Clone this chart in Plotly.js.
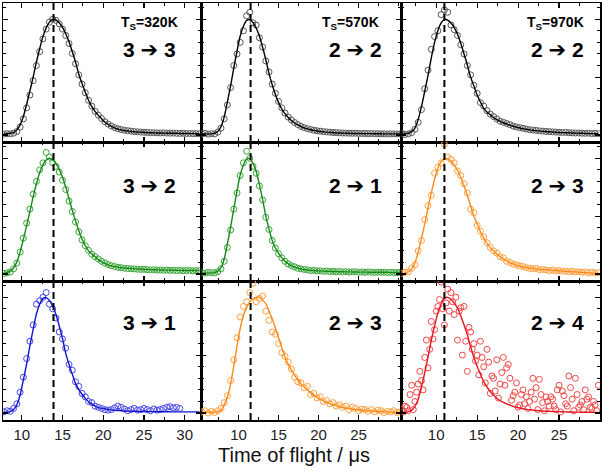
<!DOCTYPE html>
<html><head><meta charset="utf-8">
<script src="https://cdn.plot.ly/plotly-3.0.1.min.js"></script>
<style>html,body{margin:0;padding:0;background:#fff}#chart{width:602px;height:473px}</style>
</head><body><div id="chart"></div>
<script>
// time grids (µs)
const t1 = [7.8,8.2,8.6,9.0,9.4,9.8,10.2,10.6,11.0,11.4,11.8,12.2,12.6,13.0,13.4,13.8,14.2,14.6,15.0,15.4,15.8,16.2,16.6,17.0,17.4,17.8,18.2,18.6,19.0,19.4,19.8,20.2,20.6,21.0,21.4,21.8,22.2,22.6,23.0,23.4,23.8,24.2,24.6,25.0,25.4,25.8,26.2,26.6,27.0,27.4,27.8,28.2,28.6,29.0,29.4,29.8,30.2,30.6,31.0,31.4,31.8];
const t2 = [5.4,5.8,6.2,6.6,7.0,7.4,7.8,8.2,8.6,9.0,9.4,9.8,10.2,10.6,11.0,11.4,11.8,12.2,12.6,13.0,13.4,13.8,14.2,14.6,15.0,15.4,15.8,16.2,16.6,17.0,17.4,17.8,18.2,18.6,19.0,19.4,19.8,20.2,20.6,21.0,21.4,21.8,22.2,22.6,23.0,23.4,23.8,24.2,24.6,25.0,25.4,25.8,26.2,26.6,27.0,27.4,27.8,28.2,28.6,29.0,29.4,29.8,30.2];
const t3 = [5.8,6.2,6.6,7.0,7.4,7.8,8.2,8.6,9.0,9.4,9.8,10.2,10.6,11.0,11.4,11.8,12.2,12.6,13.0,13.4,13.8,14.2,14.6,15.0,15.4,15.8,16.2,16.6,17.0,17.4,17.8,18.2,18.6,19.0,19.4,19.8,20.2,20.6,21.0,21.4,21.8,22.2,22.6,23.0,23.4,23.8,24.2,24.6,25.0,25.4,25.8,26.2,26.6,27.0,27.4,27.8,28.2,28.6,29.0,29.4,29.8];
const t3b = [6.0,6.4,6.8,7.2,7.6,8.0,8.4,8.8,9.2,9.6,10.0,10.4,10.8,11.2,11.6,12.0,12.4,12.8,13.2,13.6,14.0,14.4,14.8,15.2,15.6,16.0,16.4,16.8,17.2,17.6,18.0,18.4,18.8,19.2,19.6,20.0,20.4,20.8,21.2,21.6,22.0,22.4,22.8,23.2,23.6,24.0,24.4,24.8,25.2,25.6,26.0,26.4,26.8,27.2,27.6,28.0,28.4,28.8,29.2,29.6];

// Ts = 320 K
const obs_320_33 = [0.008,0.012,0.010,0.016,0.030,0.070,0.140,0.235,0.345,0.470,0.600,0.720,0.830,0.915,0.975,1.000,0.990,0.960,0.915,0.860,0.790,0.705,0.615,0.520,0.440,0.365,0.300,0.250,0.205,0.172,0.142,0.115,0.095,0.078,0.064,0.054,0.048,0.042,0.038,0.034,0.030,0.028,0.026,0.024,0.022,0.021,0.020,0.019,0.018,0.019,0.017,0.016,0.017,0.015,0.014,0.015,0.013,0.014,0.012,0.013,0.011];
const fit_320_33 = [0.010,0.012,0.015,0.020,0.045,0.088,0.160,0.266,0.380,0.500,0.630,0.745,0.850,0.925,0.975,0.998,0.994,0.970,0.930,0.875,0.805,0.720,0.630,0.525,0.445,0.370,0.300,0.245,0.205,0.170,0.140,0.112,0.093,0.075,0.062,0.050,0.045,0.039,0.035,0.031,0.029,0.026,0.025,0.023,0.021,0.020,0.019,0.018,0.018,0.017,0.016,0.016,0.015,0.015,0.014,0.014,0.013,0.013,0.012,0.012,0.012];
const obs_320_32 = [0.005,0.010,0.018,0.045,0.095,0.190,0.310,0.440,0.560,0.690,0.800,0.900,0.960,1.050,1.010,0.960,0.930,0.880,0.810,0.730,0.630,0.540,0.450,0.365,0.295,0.245,0.205,0.172,0.150,0.130,0.110,0.095,0.082,0.072,0.065,0.058,0.055,0.050,0.048,0.046,0.044,0.042,0.040,0.041,0.038,0.036,0.037,0.034,0.035,0.033,0.034,0.031,0.033,0.030,0.032,0.029,0.031,0.030,0.028,0.030,0.029];
const fit_320_32 = [0.010,0.012,0.025,0.052,0.105,0.190,0.300,0.418,0.540,0.667,0.780,0.875,0.942,0.985,1.000,0.986,0.954,0.905,0.835,0.750,0.652,0.550,0.458,0.375,0.300,0.245,0.200,0.175,0.150,0.125,0.107,0.092,0.080,0.070,0.064,0.059,0.055,0.052,0.050,0.048,0.046,0.044,0.042,0.041,0.040,0.038,0.037,0.036,0.035,0.035,0.034,0.033,0.033,0.032,0.032,0.031,0.031,0.030,0.030,0.030,0.030];
const obs_320_31 = [0.010,0.020,0.015,0.040,0.080,0.180,0.310,0.470,0.620,0.760,0.940,0.970,1.000,1.040,0.940,0.900,0.820,0.700,0.640,0.560,0.420,0.370,0.270,0.230,0.170,0.140,0.100,0.090,0.060,0.050,0.040,0.030,0.025,0.030,0.045,0.060,0.050,0.035,0.020,0.030,0.040,0.025,0.030,0.040,0.030,0.020,0.035,0.025,0.030,0.040,0.050,0.055,0.045,0.050,0.040];
const fit_320_31 = [0.008,0.008,0.012,0.030,0.072,0.156,0.287,0.425,0.580,0.723,0.855,0.940,0.990,0.997,0.972,0.924,0.850,0.752,0.645,0.515,0.420,0.336,0.256,0.203,0.162,0.127,0.098,0.077,0.060,0.047,0.041,0.036,0.030,0.027,0.024,0.022,0.020,0.018,0.017,0.016,0.015,0.014,0.014,0.013,0.013,0.012,0.012,0.012,0.011,0.011,0.011,0.011,0.010,0.010,0.010,0.010,0.010,0.010,0.010,0.010,0.010];

// Ts = 570 K
const obs_570_22 = [0.010,0.015,0.008,0.012,0.010,0.025,0.060,0.140,0.260,0.410,0.600,0.700,0.800,0.900,1.030,1.060,0.970,0.950,0.840,0.760,0.640,0.545,0.440,0.360,0.290,0.235,0.190,0.155,0.130,0.108,0.090,0.075,0.064,0.055,0.048,0.042,0.037,0.033,0.030,0.027,0.025,0.022,0.021,0.019,0.018,0.017,0.016,0.015,0.016,0.014,0.013,0.014,0.012,0.013,0.011,0.012,0.010,0.011,0.009,0.011,0.010,0.009,0.010];
const fit_570_22 = [0.010,0.010,0.010,0.010,0.015,0.030,0.072,0.156,0.287,0.425,0.580,0.723,0.855,0.940,0.990,0.997,0.972,0.924,0.855,0.758,0.652,0.532,0.434,0.350,0.280,0.225,0.185,0.152,0.125,0.104,0.087,0.073,0.062,0.053,0.046,0.040,0.035,0.031,0.028,0.025,0.023,0.021,0.019,0.018,0.017,0.016,0.015,0.014,0.014,0.013,0.013,0.012,0.012,0.012,0.011,0.011,0.011,0.010,0.010,0.010,0.010,0.010,0.010];
const obs_570_21 = [0.010,0.008,0.015,0.012,0.010,0.020,0.045,0.110,0.230,0.380,0.560,0.700,0.850,0.960,1.060,1.000,0.930,0.870,0.760,0.640,0.490,0.385,0.290,0.225,0.175,0.140,0.110,0.088,0.072,0.062,0.050,0.045,0.040,0.036,0.030,0.032,0.027,0.028,0.024,0.026,0.021,0.024,0.020,0.022,0.018,0.021,0.017,0.019,0.020,0.016,0.018,0.015,0.019,0.016,0.014,0.017,0.015,0.016,0.013,0.015,0.014,0.012,0.015];
const fit_570_21 = [0.010,0.010,0.010,0.010,0.012,0.025,0.055,0.130,0.260,0.403,0.565,0.716,0.855,0.942,0.994,0.994,0.954,0.885,0.772,0.645,0.500,0.390,0.290,0.225,0.178,0.140,0.110,0.088,0.072,0.060,0.051,0.044,0.039,0.035,0.032,0.030,0.028,0.026,0.025,0.024,0.023,0.022,0.021,0.020,0.020,0.019,0.019,0.018,0.018,0.017,0.017,0.017,0.016,0.016,0.016,0.015,0.015,0.015,0.015,0.014,0.014,0.014,0.014];
const obs_570_23 = [0.010,0.020,0.000,0.015,0.005,0.020,0.040,0.090,0.150,0.280,0.460,0.650,0.830,0.920,0.960,1.040,1.120,0.960,0.990,1.010,0.880,0.800,0.700,0.680,0.600,0.520,0.490,0.440,0.380,0.310,0.270,0.260,0.220,0.230,0.160,0.170,0.130,0.140,0.100,0.110,0.080,0.090,0.060,0.070,0.050,0.060,0.030,0.050,0.040,0.020,0.035,0.030,0.015,0.030,0.010,0.025,0.020,0.005,0.015,0.010,0.020,0.005,0.010];
const fit_570_23 = [0.005,0.005,0.006,0.007,0.008,0.010,0.025,0.070,0.140,0.250,0.410,0.580,0.730,0.840,0.910,0.960,0.985,0.998,0.999,0.975,0.945,0.880,0.815,0.735,0.650,0.565,0.485,0.420,0.370,0.325,0.285,0.252,0.225,0.200,0.176,0.155,0.137,0.120,0.106,0.093,0.082,0.072,0.064,0.056,0.049,0.043,0.038,0.034,0.030,0.027,0.024,0.022,0.020,0.018,0.016,0.014,0.013,0.011,0.010,0.008,0.007,0.006,0.006];

// Ts = 970 K
const obs_970_22 = [0.015,0.005,0.010,0.020,0.050,0.110,0.220,0.400,0.560,0.740,0.850,0.900,1.040,1.080,1.060,0.950,0.910,0.860,0.780,0.700,0.600,0.520,0.430,0.360,0.280,0.250,0.210,0.180,0.160,0.140,0.120,0.110,0.100,0.090,0.078,0.070,0.064,0.058,0.052,0.046,0.044,0.040,0.036,0.034,0.031,0.030,0.027,0.026,0.024,0.022,0.023,0.020,0.019,0.018,0.018,0.016,0.015,0.016,0.013,0.014,0.012];
const fit_970_22 = [0.010,0.010,0.015,0.030,0.060,0.135,0.245,0.380,0.515,0.667,0.800,0.900,0.968,0.999,0.993,0.967,0.928,0.870,0.793,0.700,0.605,0.500,0.425,0.345,0.285,0.230,0.200,0.175,0.152,0.133,0.118,0.106,0.095,0.085,0.076,0.068,0.061,0.055,0.050,0.045,0.041,0.038,0.035,0.032,0.030,0.028,0.026,0.024,0.022,0.021,0.020,0.019,0.018,0.017,0.016,0.015,0.014,0.013,0.012,0.012,0.011];
const obs_970_23 = [0.005,0.015,0.020,0.050,0.080,0.200,0.290,0.470,0.590,0.680,0.870,0.920,0.960,1.120,1.010,0.990,0.960,0.890,0.850,0.780,0.700,0.560,0.530,0.420,0.370,0.320,0.270,0.230,0.200,0.180,0.150,0.140,0.110,0.100,0.085,0.080,0.070,0.065,0.055,0.050,0.045,0.048,0.038,0.040,0.035,0.030,0.035,0.028,0.030,0.024,0.026,0.020,0.024,0.018,0.020,0.015,0.018,0.012,0.015,0.010,0.012];
const fit_970_23 = [0.005,0.008,0.020,0.045,0.097,0.190,0.308,0.433,0.572,0.700,0.818,0.913,0.970,0.999,0.995,0.975,0.940,0.895,0.835,0.760,0.680,0.590,0.500,0.435,0.365,0.310,0.265,0.228,0.198,0.172,0.150,0.130,0.113,0.099,0.087,0.077,0.069,0.062,0.056,0.051,0.047,0.044,0.041,0.038,0.036,0.034,0.032,0.030,0.028,0.026,0.024,0.022,0.020,0.019,0.017,0.015,0.013,0.011,0.009,0.008,0.007];
const obs_970_24a = [0.030,0.060,0.020,0.240,0.100,0.250,0.280,0.480,0.390,0.790,0.720,0.920,1.130,0.760,1.070,1.040,0.850,0.630,0.910,0.920,0.360,0.700,0.600,0.500,0.620,0.400,0.550,0.170,0.300,0.460,0.250,0.480,0.390,0.300,0.150,0.260,0.070,0.200,0.140,0.100,0.300,0.220,0.290,0.090,0.140,0.060,0.120,0.030,0.240,0.190,0.080,0.320,0.120,0.300,0.050,0.100,0.200,0.140,0.040,0.070,0.240];
const obs_970_24b = [0.010,0.050,0.160,0.030,0.180,0.360,0.200,0.630,0.550,0.640,0.880,0.980,0.900,0.950,0.880,0.960,1.000,0.880,0.500,0.620,0.740,0.550,0.450,0.330,0.480,0.260,0.440,0.320,0.190,0.130,0.350,0.240,0.420,0.110,0.180,0.050,0.160,0.080,0.040,0.180,0.120,0.030,0.160,0.020,0.100,0.140,0.060,0.200,0.010,0.150,0.060,0.220,0.020,0.160,0.070,0.030,0.120,0.050,0.100,0.020];
const fit_970_24 = [0.005,0.006,0.012,0.025,0.058,0.120,0.224,0.350,0.485,0.628,0.752,0.865,0.942,0.990,0.999,0.983,0.950,0.905,0.840,0.760,0.675,0.572,0.482,0.405,0.335,0.270,0.225,0.185,0.155,0.128,0.108,0.093,0.080,0.068,0.058,0.050,0.043,0.037,0.032,0.028,0.025,0.022,0.020,0.018,0.016,0.015,0.014,0.013,0.012,0.011,0.010,0.009,0.009,0.008,0.008,0.007,0.007,0.007,0.006,0.006,0.006];

const surfaceTemps = ['320K','570K','970K'];
const peakTimes = [13.9, 11.5, 11.0];
const xTicksCol1 = [10,15,20,25,30];
const xTicksCol23 = [10,15,20,25];

const W = 602, H = 473;
const colPx = [[3,201],[201,401],[401,600]];
const rowPx = [[3,142],[142,281],[281,420]];
const xRanges = [[7.7,32],[5.3,30.3],[5.7,30]];
const yRange = [-0.06,1.14];

const BLACK = {m:'#555555', l:'#000000'};
const GREEN = {m:'#3aa53a', l:'#168a16'};
const BLUE = {m:'#4646e6', l:'#1414d2'};
const ORANGE = {m:'#ffa040', l:'#ff8a1a'};
const RED = {m:'#f04646', l:'#e8141e'};

const panels = [
  {r:0,c:0,t:t1,obs:[obs_320_33],fit:fit_320_33,col:BLACK,from:'3',to:'3'},
  {r:0,c:1,t:t2,obs:[obs_570_22],fit:fit_570_22,col:BLACK,from:'2',to:'2'},
  {r:0,c:2,t:t3,obs:[obs_970_22],fit:fit_970_22,col:BLACK,from:'2',to:'2'},
  {r:1,c:0,t:t1,obs:[obs_320_32],fit:fit_320_32,col:GREEN,from:'3',to:'2'},
  {r:1,c:1,t:t2,obs:[obs_570_21],fit:fit_570_21,col:GREEN,from:'2',to:'1'},
  {r:1,c:2,t:t3,obs:[obs_970_23],fit:fit_970_23,col:ORANGE,from:'2',to:'3'},
  {r:2,c:0,t:t1,obs:[obs_320_31],fit:fit_320_31,col:BLUE,from:'3',to:'1'},
  {r:2,c:1,t:t2,obs:[obs_570_23],fit:fit_570_23,col:ORANGE,from:'2',to:'3'},
  {r:2,c:2,t:t3,obs:[obs_970_24a,obs_970_24b],obsT:[t3,t3b],fit:fit_970_24,col:RED,from:'2',to:'4'}
];

const traces = [];
const layout = {
  width: W, height: H, autosize: false,
  margin: {l:0,r:0,t:0,b:0,pad:0},
  paper_bgcolor: '#fff', plot_bgcolor: '#fff',
  showlegend: false,
  font: {family: 'Liberation Sans, Arial, sans-serif', color: '#000'},
  shapes: [], annotations: []
};

panels.forEach((p, i) => {
  const k = i + 1;
  const xa = 'x' + k, ya = 'y' + k;
  p.obs.forEach((o, j) => {
    traces.push({
      x: p.obsT ? p.obsT[j] : p.t, y: o, xaxis: xa, yaxis: ya,
      type: 'scatter', mode: 'markers',
      marker: {symbol: 'circle-open', size: 6, color: p.col.m, line: {width: 1, color: p.col.m}},
      hoverinfo: 'skip'
    });
  });
  traces.push({
    x: p.t, y: p.fit, xaxis: xa, yaxis: ya, type: 'scatter', mode: 'lines',
    line: {shape: 'spline', smoothing: 0.8, color: p.col.l, width: 1.4}, hoverinfo: 'skip'
  });
  const cp = colPx[p.c], rp = rowPx[p.r];
  layout['xaxis' + k] = {
    domain: [cp[0]/W, cp[1]/W], range: xRanges[p.c], anchor: ya,
    showline: true, linecolor: '#000', linewidth: 1.5, mirror: 'ticks',
    ticks: 'inside', ticklen: 5, tickwidth: 1.2, tickcolor: '#000',
    tickmode: 'array', tickvals: p.c === 0 ? xTicksCol1 : xTicksCol23,
    showticklabels: p.r === 2,
    tickfont: {family: 'Liberation Sans, Arial, sans-serif', size: 15, color: '#222'},
    showgrid: false, zeroline: false, fixedrange: true,
    minor: {ticks: 'inside', ticklen: 3, tickwidth: 1, tickcolor: '#000', dtick: 2.5, tick0: 0, showgrid: false}
  };
  layout['yaxis' + k] = {
    domain: [1 - rp[1]/H, 1 - rp[0]/H], range: yRange, anchor: xa,
    showline: true, linecolor: '#000', linewidth: 1.5, mirror: 'ticks',
    ticks: 'inside', ticklen: 5, tickwidth: 1.2, tickcolor: '#000',
    tick0: 0, dtick: 0.5, showticklabels: false,
    showgrid: false, zeroline: false, fixedrange: true,
    minor: {ticks: 'inside', ticklen: 3, tickwidth: 1, tickcolor: '#000', dtick: 0.1, tick0: 0, showgrid: false}
  };
  layout.shapes.push({
    type: 'line', xref: xa, yref: ya + ' domain',
    x0: peakTimes[p.c], x1: peakTimes[p.c], y0: 0, y1: 1,
    line: {color: '#000', width: 2, dash: '7px,4px'}
  });
  const tx = [0.74, 0.77, 0.785][p.c];
  const ty = [0.662, 0.69, 0.698][p.r];
  layout.annotations.push({
    xref: xa + ' domain', yref: ya + ' domain', x: tx, y: ty,
    text: '<b>' + p.from + ' \u2794 ' + p.to + '</b>', showarrow: false,
    xanchor: 'center', yanchor: 'middle',
    font: {family: 'Liberation Sans, DejaVu Sans, sans-serif', size: 21, color: '#000'}
  });
  if (p.r === 0) {
    layout.annotations.push({
      xref: xa + ' domain', yref: ya + ' domain', x: [0.74, 0.745, 0.774][p.c], y: 0.856,
      text: '<b>T<sub>S</sub>=' + surfaceTemps[p.c] + '</b>', showarrow: false,
      xanchor: 'center', yanchor: 'middle',
      font: {family: 'Liberation Sans, Arial, sans-serif', size: 14, color: '#000'}
    });
  }
});

layout.annotations.push({
  xref: 'paper', yref: 'paper', x: 0.488, y: 1 - 455/H,
  text: 'Time of flight / \u03bcs', showarrow: false, xanchor: 'center', yanchor: 'middle',
  font: {family: 'Liberation Sans, Arial, sans-serif', size: 20, color: '#111'}
});

Plotly.newPlot('chart', traces, layout, {staticPlot: true, displayModeBar: false});
</script>
</body></html>
